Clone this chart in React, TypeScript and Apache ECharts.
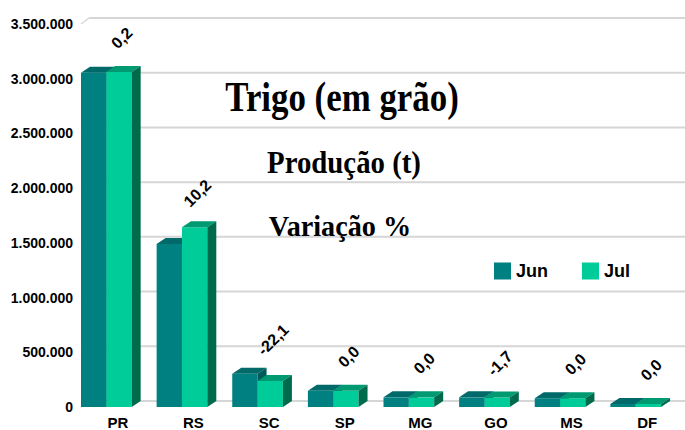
import React, { useEffect, useRef } from "react";
import * as echarts from "echarts";

const categories = ["PR", "RS", "SC", "SP", "MG", "GO", "MS", "DF"];
const junValues = [3055000, 1490000, 303000, 148000, 88000, 88000, 80000, 28000];
const julValues = [3061000, 1643000, 238000, 148000, 88000, 86500, 80000, 28000];
const variations = [0.2, 10.2, -22.1, 0.0, 0.0, -1.7, 0.0, 0.0];
const yTicks = [0, 500000, 1000000, 1500000, 2000000, 2500000, 3000000, 3500000];
const seriesNames = ["Jun", "Jul"];

const SANS = "'Liberation Sans', Arial, sans-serif";
const SERIF = "'Liberation Serif', 'Times New Roman', serif";

const palettes = [
  { front: "#008080", top: "#006A6A", side: "#005A5A" },
  { front: "#00CC99", top: "#009A72", side: "#006B4C" },
];

const DX = 9;
const DY = 6;

function fmtThousands(n: number): string {
  const s = Math.round(n).toString();
  return s.replace(/\B(?=(\d{3})+(?!\d))/g, ".");
}

function fmtVar(v: number): string {
  return v.toFixed(1).replace(".", ",");
}

function makeBarRender(idx: number) {
  return (params: any, api: any) => {
    const ci = api.value(0);
    const v = api.value(1);
    const c = api.coord([ci, v]);
    const base = api.coord([ci, 0]);
    const band = api.size([1, 0])[0];
    const w = band * 0.335;
    const x0 = c[0] - band / 2 + 1 + idx * w;
    const top = c[1];
    const bottom = base[1];
    const pal = palettes[idx];
    const children: any[] = [
      {
        type: "rect",
        shape: { x: x0, y: top, width: w, height: bottom - top },
        style: { fill: pal.front },
      },
      {
        type: "polygon",
        shape: {
          points: [
            [x0, top],
            [x0 + DX, top - DY],
            [x0 + w + DX, top - DY],
            [x0 + w, top],
          ],
        },
        style: { fill: pal.top },
      },
      {
        type: "polygon",
        shape: {
          points: [
            [x0 + w, top],
            [x0 + w + DX, top - DY],
            [x0 + w + DX, bottom - DY],
            [x0 + w, bottom],
          ],
        },
        style: { fill: pal.side },
      },
    ];
    if (idx === 1) {
      const maxV = Math.max(junValues[ci], julValues[ci]);
      const mc = api.coord([ci, maxV]);
      children.push({
        type: "text",
        x: c[0] + 4,
        y: mc[1] - 34,
        rotation: Math.PI / 4,
        style: {
          text: fmtVar(variations[ci]),
          fontSize: 16,
          fontWeight: "bold",
          fontFamily: SANS,
          fill: "#000",
          align: "center",
          verticalAlign: "middle",
        },
      });
    }
    return { type: "group", children };
  };
}

function gridRender(params: any, api: any) {
  const v = api.value(1);
  const p = api.coord([0, v]);
  const cs = params.coordSys;
  const y = p[1];
  return {
    type: "group",
    children: [
      {
        type: "line",
        shape: { x1: cs.x + DX, y1: y - DY, x2: cs.x + cs.width, y2: y - DY },
        style: { stroke: "#d6d6d6", lineWidth: 2 },
      },
      {
        type: "line",
        shape: { x1: cs.x + 1, y1: y, x2: cs.x + DX, y2: y - DY },
        style: { stroke: "#d6d6d6", lineWidth: 1.5 },
      },
    ],
  };
}

const titleStyle = (text: string, size: number) => ({
  text,
  fontSize: size,
  fontWeight: "bold",
  fontFamily: SERIF,
  fill: "#000",
  align: "center",
  verticalAlign: "middle",
  textAlign: "center",
  textVerticalAlign: "middle",
});

export default function App() {
  const ref = useRef<HTMLDivElement>(null);
  useEffect(() => {
    if (!ref.current) return;
    const chart = echarts.init(ref.current, null, { renderer: "svg" });
    chart.setOption({
      animation: false,
      backgroundColor: "#ffffff",
      grid: { left: 80, top: 24, width: 607, height: 385 },
      legend: {
        data: seriesNames,
        left: 494,
        top: 262,
        padding: 0,
        icon: "rect",
        itemWidth: 17,
        itemHeight: 17,
        itemGap: 34,
        textStyle: { fontSize: 18, fontWeight: "bold", fontFamily: SANS, color: "#000" },
      },
      xAxis: {
        type: "category",
        data: categories,
        axisLine: { show: false },
        axisTick: { show: false },
        axisLabel: {
          margin: 8,
          fontSize: 15,
          fontWeight: "bold",
          fontFamily: SANS,
          color: "#000",
        },
      },
      yAxis: {
        type: "value",
        min: 0,
        max: 3500000,
        interval: 500000,
        axisLine: { show: false },
        axisTick: { show: false },
        splitLine: { show: false },
        axisLabel: {
          margin: 7,
          fontSize: 14,
          fontWeight: "bold",
          fontFamily: SANS,
          color: "#000",
          formatter: (v: number) => fmtThousands(v),
        },
      },
      graphic: [
        {
          type: "text",
          z: 100,
          x: 342,
          y: 97,
          scaleX: 0.83,
          style: titleStyle("Trigo (em grão)", 42),
        },
        {
          type: "text",
          z: 100,
          x: 344,
          y: 162,
          scaleX: 0.9,
          style: titleStyle("Produção (t)", 32),
        },
        {
          type: "text",
          z: 100,
          x: 340,
          y: 226,
          scaleX: 0.94,
          style: titleStyle("Variação %", 30),
        },
      ],
      series: [
        {
          type: "custom",
          name: "grid",
          z: 1,
          silent: true,
          renderItem: gridRender,
          encode: { x: 0, y: 1 },
          data: yTicks.map((t) => [0, t]),
        },
        {
          type: "custom",
          name: seriesNames[0],
          z: 2,
          itemStyle: { color: palettes[0].front },
          renderItem: makeBarRender(0),
          encode: { x: 0, y: 1 },
          data: junValues.map((v, i) => [i, v]),
        },
        {
          type: "custom",
          name: seriesNames[1],
          z: 3,
          itemStyle: { color: palettes[1].front },
          renderItem: makeBarRender(1),
          encode: { x: 0, y: 1 },
          data: julValues.map((v, i) => [i, v]),
        },
      ],
    });
    return () => chart.dispose();
  }, []);
  return (
    <div
      ref={ref}
      style={{ position: "fixed", left: 0, top: 0, width: 685, height: 430 }}
    />
  );
}
